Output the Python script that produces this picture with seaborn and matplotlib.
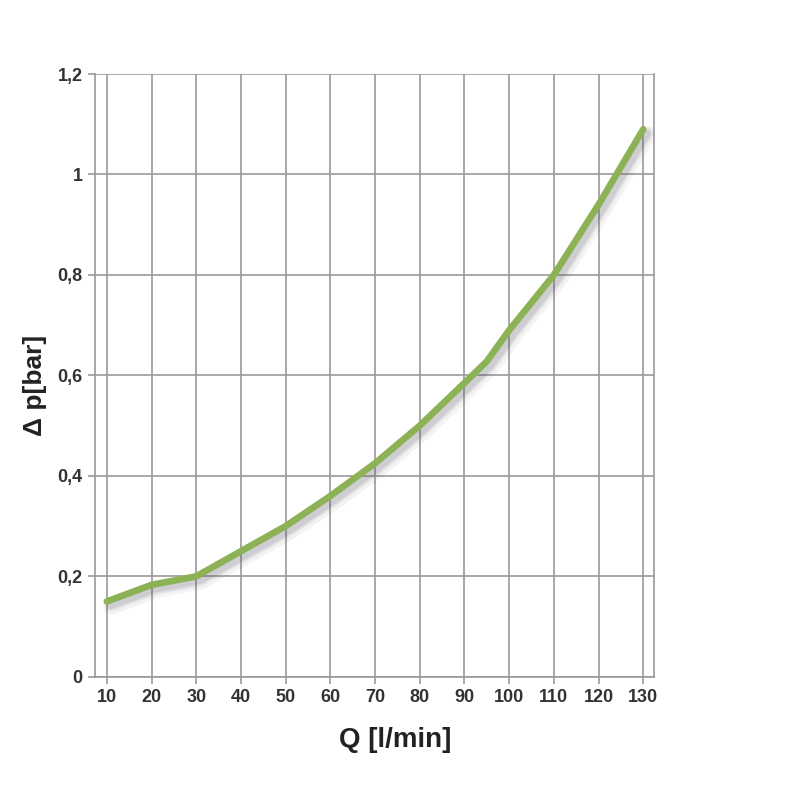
import matplotlib
matplotlib.use("Agg")
import matplotlib.pyplot as plt
import matplotlib.patheffects as pe
import seaborn as sns
import pandas as pd

flow = [10, 20, 30, 40, 50, 60, 70, 80, 90, 95, 100, 110, 120, 130]
dp = [0.15, 0.183, 0.2, 0.25, 0.30, 0.36, 0.425, 0.50, 0.585, 0.628, 0.69, 0.80, 0.94, 1.09]
xticks = [10, 20, 30, 40, 50, 60, 70, 80, 90, 100, 110, 120, 130]
yticks = [0, 0.2, 0.4, 0.6, 0.8, 1.0, 1.2]
ytick_labels = ["0", "0,2", "0,4", "0,6", "0,8", "1", "1,2"]

sns.set_theme(style="white")
plt.rcParams['font.family'] = ['Liberation Sans', 'DejaVu Sans']

df = pd.DataFrame({"Q": flow, "dp": dp})

fig = plt.figure(figsize=(8, 8), dpi=100)
ax = fig.add_axes([0.119, 0.154, 0.6985, 0.7535])

grid_c = "#9a9a9a"
txt_c = "#333333"

sns.lineplot(data=df, x="Q", y="dp", ax=ax, color="#8db255", linewidth=4.8,
             solid_capstyle="round", zorder=5,
             path_effects=[
                 pe.SimpleLineShadow(offset=(3.5, -3.5), shadow_color="#555566", alpha=0.07, linewidth=12),
                 pe.SimpleLineShadow(offset=(3, -3), shadow_color="#555566", alpha=0.10, linewidth=8),
                 pe.SimpleLineShadow(offset=(3, -3), shadow_color="#555566", alpha=0.15, linewidth=5),
                 pe.Normal()])

ax.set_xlim(7.4, 132.4)
ax.set_ylim(0, 1.2)
ax.set_xticks(xticks)
ax.set_xticklabels([str(t) for t in xticks])
ax.set_yticks(yticks)
ax.set_yticklabels(ytick_labels)

ax.grid(True, color=grid_c, linewidth=1.2)
ax.set_axisbelow(True)
for s in ["left", "right", "top", "bottom"]:
    ax.spines[s].set_color(grid_c)
    ax.spines[s].set_linewidth(1.2)
ax.spines["top"].set_visible(False)

ax.tick_params(axis="both", which="both", direction="out", length=5, width=1.2,
               color=grid_c, labelcolor=txt_c, labelsize=13, pad=4)
ax.tick_params(left=True, bottom=True)
for lab in ax.get_xticklabels() + ax.get_yticklabels():
    lab.set_fontweight("bold")

ax.set_xlabel("Q [l/min]", fontsize=20, fontweight="bold", color="#222222")
ax.set_ylabel("Δ p[bar]", fontsize=19, fontweight="bold", color="#222222")
ax.xaxis.set_label_coords((395 - 95) / 559, (677 - 727) / 603)
ax.yaxis.set_label_coords((47 - 95) / 559, (677 - 386) / 603)

fig.savefig("out.png", dpi=100)
